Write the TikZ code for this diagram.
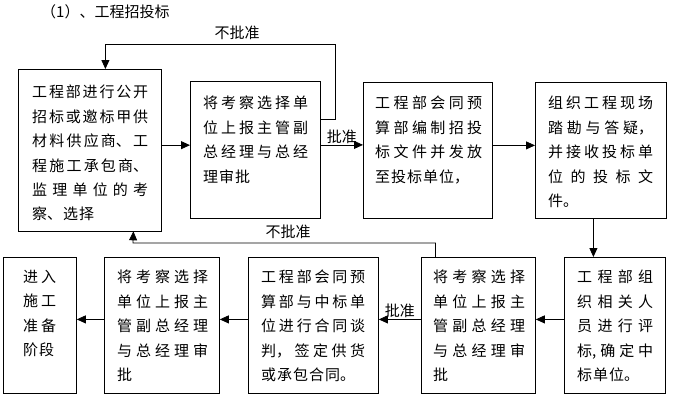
\documentclass[tikz,border=0pt]{standalone}
\usepackage{fontspec}
\setmainfont{Noto Sans CJK SC}
\XeTeXlinebreaklocale "zh"
\XeTeXlinebreakskip=1pt plus 4pt
\usetikzlibrary{arrows.meta,positioning}
\tikzset{
  box/.style={draw, line width=0.8pt, inner sep=0pt, anchor=north west},
  txt/.style={inner sep=0pt, align=justify, font=\fontsize{15pt}{24.4pt}\selectfont},
  lbl/.style={inner sep=1pt, font=\fontsize{15pt}{18pt}\selectfont},
  arr/.style={line width=0.8pt, -{Triangle[length=9pt,width=8pt]}},
}
\begin{document}
\begin{tikzpicture}[x=1pt,y=-1pt]
  \useasboundingbox (0,0) rectangle (677,416);
  \node[lbl, anchor=west] (title) at (40,12) {（1）、工程招投标};

  % upper row
  \node[box, minimum width=143pt, minimum height=161.5pt] (b1) at (18,69) {};
  \node[box, minimum width=130pt, minimum height=137pt] (b2) at (190,81) {};
  \node[box, minimum width=129pt, minimum height=136pt] (b3) at (363,82) {};
  \node[box, minimum width=131pt, minimum height=136pt] (b4) at (535,82) {};

  \node[txt, text width=116pt, below right=16pt and 14pt of b1.north west] (t1) {工程部进行公开\linebreak 招标或邀标甲供\linebreak 材料供应商、工\linebreak 程施工承包商、\linebreak 监理单位的考\linebreak 察、选择};
  \node[txt, text width=105pt, below right=15pt and 13pt of b2.north west] (t2) {将考察选择单\linebreak 位上报主管副\linebreak 总经理与总经\linebreak 理审批};
  \node[txt, text width=107pt, below right=14pt and 12pt of b3.north west] (t3) {工程部会同预\linebreak 算部编制招投\linebreak 标文件并发放\linebreak 至投标单位，};
  \node[txt, text width=105pt, below right=14pt and 13pt of b4.north west] (t4) {组织工程现场\linebreak 踏勘与答疑，\linebreak 并接收投标单\linebreak 位的投标文\linebreak 件。};

  % lower row
  \node[box, minimum width=101pt, minimum height=136pt] (b5) at (564,257) {};
  \node[box, minimum width=114pt, minimum height=136pt] (b6) at (421,257) {};
  \node[box, minimum width=130pt, minimum height=136pt] (b7) at (248,257) {};
  \node[box, minimum width=115pt, minimum height=136pt] (b8) at (104,257) {};
  \node[box, minimum width=73pt, minimum height=136pt] (b9) at (3,257) {};

  \node[txt, text width=76pt, below right=13pt and 13pt of b5.north west] (t5) {工程部组\linebreak 织相关人\linebreak 员进行评\linebreak 标,确定中\linebreak 标单位。};
  \node[txt, text width=92pt, below right=13pt and 12pt of b6.north west] (t6) {将考察选择\linebreak 单位上报主\linebreak 管副总经理\linebreak 与总经理审\linebreak 批};
  \node[txt, text width=104pt, below right=13pt and 13pt of b7.north west] (t7) {工程部会同预\linebreak 算部与中标单\linebreak 位进行合同谈\linebreak 判，签定供货\linebreak 或承包合同。};
  \node[txt, text width=91pt, below right=13pt and 13pt of b8.north west] (t8) {将考察选择\linebreak 单位上报主\linebreak 管副总经理\linebreak 与总经理审\linebreak 批};
  \node[txt, text width=33pt, below right=13pt and 20pt of b9.north west] (t9) {进入\linebreak 施工\linebreak 准备\linebreak 阶段};

  % flow
  \draw[arr] ([yshift=5pt]b1.east) -- ([yshift=5pt]b1.east -| b2.west);
  \draw[arr] ([yshift=5pt]b2.east) -- ([yshift=5pt]b2.east -| b3.west)
    node[lbl, midway, above] (ok1) {批准};
  \draw[arr] ([yshift=5pt]b3.east) -- ([yshift=5pt]b3.east -| b4.west);
  \draw[arr] ([xshift=-7.5pt]b4.south) -- ([xshift=-7.5pt]b4.south |- b5.north);
  \draw[arr] ([yshift=6pt]b5.west) -- ([yshift=6pt]b5.west -| b6.east);
  \draw[arr] ([yshift=6pt]b6.west) -- ([yshift=6pt]b6.west -| b7.east)
    node[lbl, midway, above] (ok2) {批准};
  \draw[arr] ([yshift=6pt]b7.west) -- ([yshift=6pt]b7.west -| b8.east);
  \draw[arr] ([yshift=6pt]b8.west) -- ([yshift=6pt]b8.west -| b9.east);

  % not approved, back to the start
  \draw[arr] ([yshift=30.5pt]b2.east) -| (335,44) -| ([xshift=15.5pt]b1.north);
  \node[lbl] (no1) at (237,33) {不批准};
  \draw[arr] ([xshift=-43pt]b6.north) |- (133,243) -- ([xshift=43.5pt]b1.south);
  \node[lbl] (no2) at (288,232) {不批准};
\end{tikzpicture}
\end{document}
